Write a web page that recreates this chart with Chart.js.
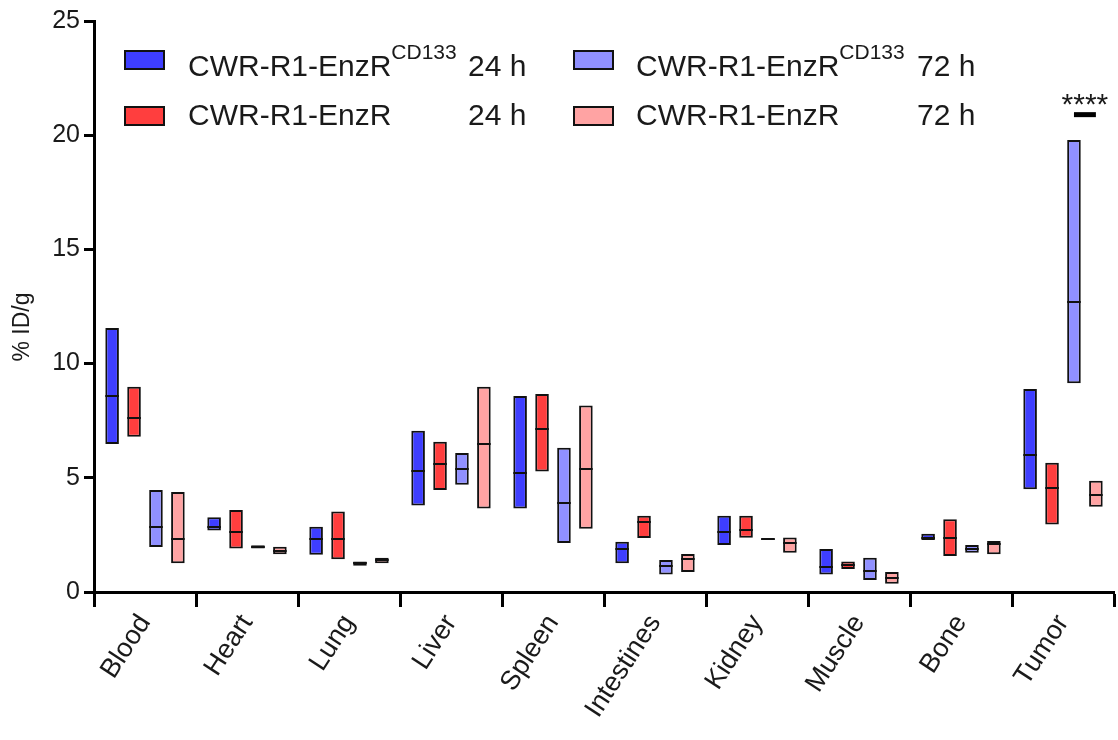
<!DOCTYPE html>
<html><head><meta charset="utf-8">
<script src="https://cdn.jsdelivr.net/npm/chart.js@4/dist/chart.umd.min.js"></script>
<style>html,body{margin:0;padding:0;background:#fff}#wrap{width:1118px;height:740px;position:relative}</style>
</head><body><div id="wrap"><canvas id="c" width="1118" height="740"></canvas></div>
<script>
const categories = ["Blood","Heart","Lung","Liver","Spleen","Intestines","Kidney","Muscle","Bone","Tumor"];

const cd133_24h_min = [6.48, 2.69, 1.63, 3.79, 3.66, 1.26, 2.06, 0.77, 2.28, 4.50];
const cd133_24h_max = [11.56, 3.27, 2.86, 7.06, 8.58, 2.20, 3.34, 1.88, 2.55, 8.89];
const cd133_24h_med = [8.58, 2.86, 2.32, 5.28, 5.20, 1.88, 2.61, 1.11, 2.35, 6.00];

const enzr_24h_min = [6.80, 1.90, 1.43, 4.47, 5.28, 2.36, 2.38, 1.01, 1.58, 2.95];
const enzr_24h_max = [8.99, 3.59, 3.52, 6.58, 8.67, 3.34, 3.34, 1.34, 3.18, 5.66];
const enzr_24h_med = [7.62, 2.61, 2.32, 5.60, 7.12, 3.05, 2.70, 1.18, 2.38, 4.57];

const cd133_72h_min = [1.97, 1.90, 1.15, 4.70, 2.15, 0.77, 2.28, 0.53, 1.72, 9.14];
const cd133_72h_max = [4.47, 2.05, 1.34, 6.09, 6.32, 1.40, 2.35, 1.50, 2.06, 19.79];
const cd133_72h_med = [2.86, 1.97, 1.25, 5.39, 3.88, 1.15, 2.32, 0.92, 1.87, 12.70];

const enzr_72h_min = [1.26, 1.65, 1.26, 3.66, 2.77, 0.88, 1.72, 0.36, 1.65, 3.73];
const enzr_72h_max = [4.38, 1.98, 1.50, 8.99, 8.17, 1.66, 2.39, 0.88, 2.23, 4.87];
const enzr_72h_med = [2.32, 1.81, 1.38, 6.48, 5.37, 1.44, 2.15, 0.60, 2.09, 4.23];

const legendNames = ["CWR-R1-EnzR", "CWR-R1-EnzR", "CWR-R1-EnzR", "CWR-R1-EnzR"];
const legendSup = ["CD133", "", "CD133", ""];
const legendTime = ["24 h", "24 h", "72 h", "72 h"];
const yTicks = [0, 5, 10, 15, 20, 25];
const yTitle = "% ID/g";

const sigCategory = "Tumor";
const sigPair = [2, 3];
const sigLevel = 20.9;
const sigText = "****";

const colors = ["rgb(62,62,255)", "rgb(255,62,62)", "rgb(144,144,255)", "rgb(255,163,163)"];
const FONT = "'Liberation Sans', Arial, sans-serif";
const TXT = "#1a1a1a";

function ranges(mins, maxs) { return mins.map((m, i) => [m, maxs[i]]); }
const seriesRanges = [
  ranges(cd133_24h_min, cd133_24h_max),
  ranges(enzr_24h_min, enzr_24h_max),
  ranges(cd133_72h_min, cd133_72h_max),
  ranges(enzr_72h_min, enzr_72h_max)
];
const seriesMedians = [cd133_24h_med, enzr_24h_med, cd133_72h_med, enzr_72h_med];

const medianPlugin = {
  id: 'medians',
  afterDatasetsDraw(chart) {
    const ctx = chart.ctx, ys = chart.scales.y;
    ctx.save();
    ctx.strokeStyle = '#111';
    ctx.lineWidth = 2;
    chart.data.datasets.forEach((ds, i) => {
      const meta = chart.getDatasetMeta(i);
      meta.data.forEach((bar, j) => {
        const y = Math.round(ys.getPixelForValue(seriesMedians[i][j]));
        ctx.beginPath();
        ctx.moveTo(bar.x - bar.width / 2, y);
        ctx.lineTo(bar.x + bar.width / 2, y);
        ctx.stroke();
      });
    });
    // significance
    const ci = categories.indexOf(sigCategory);
    const a = chart.getDatasetMeta(sigPair[0]).data[ci];
    const b = chart.getDatasetMeta(sigPair[1]).data[ci];
    const sy = ys.getPixelForValue(sigLevel);
    ctx.lineWidth = 5;
    ctx.strokeStyle = '#000';
    ctx.beginPath();
    ctx.moveTo(a.x, sy);
    ctx.lineTo(b.x, sy);
    ctx.stroke();
    ctx.fillStyle = TXT;
    ctx.font = "30px " + FONT;
    ctx.textAlign = 'center';
    ctx.textBaseline = 'alphabetic';
    ctx.fillText(sigText, (a.x + b.x) / 2, sy - 1);
    ctx.restore();
  }
};

const legendPlugin = {
  id: 'customLegend',
  afterDraw(chart) {
    const ctx = chart.ctx;
    const cols = [{box: 125, text: 188, time: 468}, {box: 574, text: 636, time: 917}];
    const rows = [{boxTop: 51, base: 76}, {boxTop: 107, base: 125}];
    ctx.save();
    for (let i = 0; i < 4; i++) {
      const c = cols[Math.floor(i / 2)], r = rows[i % 2];
      ctx.fillStyle = colors[i];
      ctx.fillRect(c.box, r.boxTop, 39, 18);
      ctx.strokeStyle = '#111';
      ctx.lineWidth = 2;
      ctx.strokeRect(c.box, r.boxTop, 39, 18);
      ctx.fillStyle = TXT;
      ctx.textBaseline = 'alphabetic';
      ctx.textAlign = 'left';
      ctx.font = "30px " + FONT;
      ctx.fillText(legendNames[i], c.text, r.base);
      const w = ctx.measureText(legendNames[i]).width;
      if (legendSup[i]) {
        ctx.font = "21px " + FONT;
        ctx.fillText(legendSup[i], c.text + w, r.base - 17);
      }
      ctx.font = "30px " + FONT;
      ctx.fillText(legendTime[i], c.time, r.base);
    }
    // y axis title
    ctx.translate(23, 327);
    ctx.rotate(-Math.PI / 2);
    ctx.font = "23px " + FONT;
    ctx.textAlign = 'center';
    ctx.textBaseline = 'middle';
    ctx.fillText(yTitle, 0, 0);
    ctx.restore();
  }
};

new Chart(document.getElementById('c'), {
  type: 'bar',
  data: {
    labels: categories,
    datasets: seriesRanges.map((d, i) => ({
      data: d,
      backgroundColor: colors[i],
      borderColor: '#111',
      borderWidth: 2,
      borderSkipped: false,
      categoryPercentage: 0.86,
      barPercentage: 0.62
    }))
  },
  options: {
    responsive: false,
    animation: false,
    layout: {padding: {left: 0, right: 4, top: 21, bottom: 0}},
    plugins: {legend: {display: false}, tooltip: {enabled: false}},
    scales: {
      x: {
        grid: {offset: true, drawOnChartArea: false, drawTicks: true, tickLength: 15, tickWidth: 3, tickColor: '#000'},
        border: {display: true, color: '#000', width: 3},
        ticks: {font: {size: 27, family: FONT}, color: TXT, maxRotation: 57, minRotation: 57, padding: 2, autoSkip: false},
        afterFit(s) { s.height = 148; }
      },
      y: {
        min: 0, max: 25,
        afterBuildTicks(s) { s.ticks = yTicks.map(v => ({value: v})); },
        ticks: {font: {size: 25, family: FONT}, color: TXT, padding: 4},
        grid: {drawOnChartArea: false, drawTicks: true, tickLength: 10, tickWidth: 3, tickColor: '#000'},
        border: {display: true, color: '#000', width: 3},
        title: {display: false},
        afterFit(s) { s.width = 94; }
      }
    }
  },
  plugins: [medianPlugin, legendPlugin]
});
</script>
</body></html>
